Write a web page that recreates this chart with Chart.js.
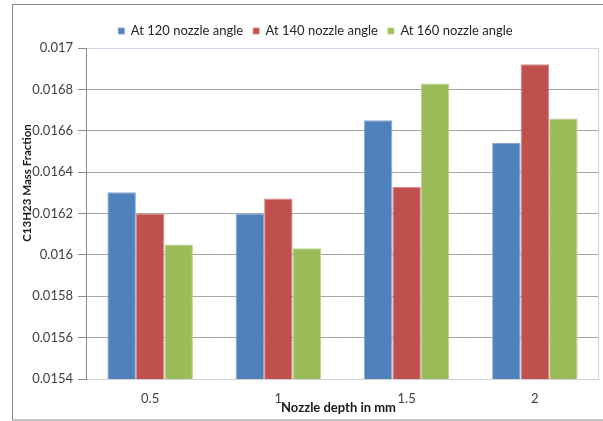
<!DOCTYPE html>
<html>
<head>
<meta charset="utf-8">
<script src="https://cdn.jsdelivr.net/npm/chart.js@4/dist/chart.umd.min.js"></script>
<style>
  html, body { margin: 0; padding: 0; background: #ffffff; }
  #wrap { width: 603px; height: 421px; position: relative; }
</style>
</head>
<body>
<div id="wrap"><canvas id="c" width="603" height="421"></canvas></div>
<script>
// Nozzle depth categories (mm)
const depths = ['0.5', '1', '1.5', '2'];
// C13H23 mass fraction per nozzle angle
const angle120 = [0.016303, 0.016200, 0.016651, 0.016541];
const angle140 = [0.016200, 0.016273, 0.016328, 0.016921];
const angle160 = [0.016050, 0.016032, 0.016829, 0.016659];
const seriesNames = ['At 120 nozzle angle', 'At 140 nozzle angle', 'At 160 nozzle angle'];
const yTicks = [0.0154, 0.0156, 0.0158, 0.016, 0.0162, 0.0164, 0.0166, 0.0168, 0.017];
const yTitle = 'C13H23 Mass Fraction';
const xTitle = 'Nozzle depth in mm';

const FONT = 'Lato, "Liberation Sans", sans-serif';

// Outer frame, plot border, axis titles, and a fixed legend band height
const decorations = {
  id: 'decorations',
  afterInit(chart) {
    const lg = chart.legend;
    if (lg) {
      const fit = lg.fit;
      lg.fit = function () { fit.call(this); this.height = 33.5; };
    }
  },
  beforeDraw(chart) {
    const ctx = chart.ctx;
    ctx.save();
    ctx.strokeStyle = '#8c8c8c';
    ctx.lineWidth = 1;
    ctx.strokeRect(12.5, 4.5, 620, 415.5);
    ctx.restore();
  },
  afterDraw(chart) {
    const ctx = chart.ctx;
    const a = chart.chartArea;
    ctx.save();
    // right edge of the plot area
    ctx.strokeStyle = '#c9d7e8';
    ctx.lineWidth = 1;
    ctx.beginPath();
    ctx.moveTo(Math.round(a.right) - 0.5, a.top);
    ctx.lineTo(Math.round(a.right) - 0.5, a.bottom);
    ctx.stroke();
    // axis titles
    ctx.fillStyle = '#1a1a1a';
    ctx.textAlign = 'center';
    ctx.textBaseline = 'middle';
    ctx.font = 'bold 13px ' + FONT;
    ctx.fillText(xTitle, (a.left + a.right) / 2 - 4, a.bottom + 29);
    ctx.font = 'bold 11.5px ' + FONT;
    ctx.translate(27, a.top + 135);
    ctx.rotate(-Math.PI / 2);
    ctx.fillText(yTitle, 0, 0);
    ctx.restore();
  }
};

const mk = (label, data, color, edge) => ({
  label, data,
  backgroundColor: color,
  borderColor: edge,
  borderWidth: 1,
  categoryPercentage: 0.667,
  barPercentage: 1.0
});

new Chart(document.getElementById('c'), {
  type: 'bar',
  data: {
    labels: depths,
    datasets: [
      mk(seriesNames[0], angle120, '#4f81bd', '#86a7d2'),
      mk(seriesNames[1], angle140, '#c0504d', '#d98a88'),
      mk(seriesNames[2], angle160, '#9bbb59', '#bcd48f')
    ]
  },
  options: {
    responsive: false,
    animation: false,
    devicePixelRatio: 1,
    layout: { padding: { top: 14.5, right: 4, left: 32, bottom: 0 } },
    plugins: {
      legend: {
        position: 'top',
        align: 'center',
        labels: {
          boxWidth: 6,
          boxHeight: 6,
          padding: 10,
          color: '#262626',
          font: { family: FONT, size: 13 }
        }
      },
      tooltip: { enabled: false }
    },
    scales: {
      x: {
        afterFit(s) { s.height = 42; },
        grid: { display: false, drawTicks: false },
        border: { display: true, color: '#d4d4d4', width: 1 },
        ticks: { color: '#404040', padding: 12, font: { family: FONT, size: 13 } }
      },
      y: {
        min: yTicks[0],
        max: yTicks[yTicks.length - 1],
        afterFit(s) { s.width = 54; },
        afterBuildTicks(s) { s.ticks = yTicks.map((v) => ({ value: v })); },
        grid: {
          color: (c) => (c.tick && c.tick.value === yTicks[yTicks.length - 1] ? '#c9d7e8' : '#a6a6a6'),
          tickColor: '#8c8c8c',
          tickLength: 8,
          lineWidth: 1
        },
        border: { display: true, color: '#8c8c8c', width: 1 },
        ticks: {
          color: '#404040',
          padding: 5,
          font: { family: FONT, size: 13 },
          callback: (v) => String(+v.toFixed(4))
        }
      }
    }
  },
  plugins: [decorations]
});
</script>
</body>
</html>
